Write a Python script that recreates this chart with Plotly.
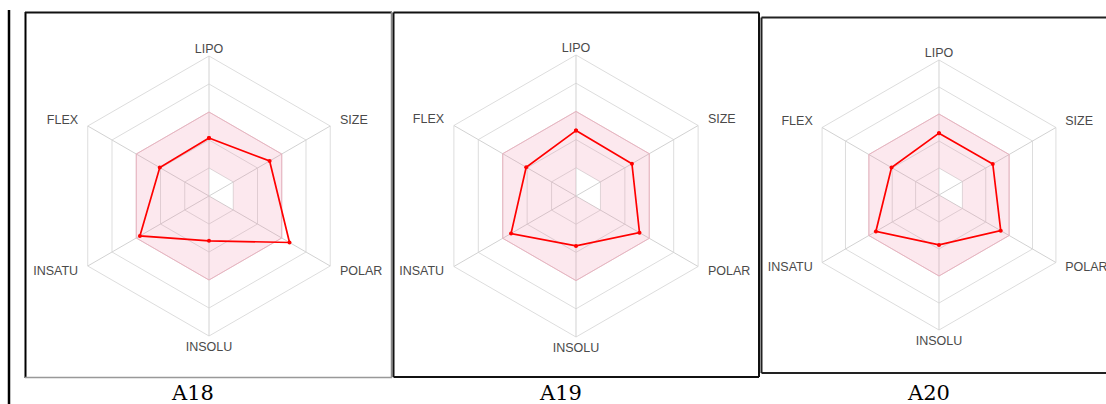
import plotly.graph_objects as go

W, H = 1106, 404

axes = ["LIPO", "SIZE", "POLAR", "INSOLU", "INSATU", "FLEX"]
panel_names = ["A18", "A19", "A20"]
a18 = [2.07, 2.50, 3.32, 1.60, 2.85, 2.03]
a19 = [2.32, 2.29, 2.60, 1.77, 2.66, 2.04]
a20 = [2.29, 2.30, 2.64, 1.85, 2.70, 2.03]
series = [a18, a19, a20]
optimal_low = 1
optimal_high = 3
ring_vals = [1, 2, 3, 4, 5]
axis_max = 5
range_max = 5.6  # room for the axis labels

# polar layout: centre (px) and radius of the r=5 hexagon (px)
panels = [(209, 196, 140), (576, 196, 141), (939, 195, 135)]
label_x = [192, 560, 928]

# axis-label placement (radius, text position)
label_r = [5.0, 5.4, 5.4, 5.2, 5.4, 5.4]
label_pos = ["top center", "middle right", "middle right", "bottom center", "middle left", "middle left"]


def px_x(v):
    return v / W


def px_y(v):
    return 1 - v / H


fig = go.Figure()

for i, (vals, (cx, cy, R)) in enumerate(zip(series, panels)):
    pid = "polar" if i == 0 else f"polar{i + 1}"
    Rd = R * range_max / axis_max
    # spokes
    sp_r, sp_t = [], []
    for a in axes:
        sp_r += [0, axis_max, None]
        sp_t += [a, a, a]
    fig.add_trace(go.Scatterpolar(
        r=sp_r, theta=sp_t, mode="lines", line=dict(width=1, color="#d2d2d2"),
        connectgaps=False, hoverinfo="skip", showlegend=False, subplot=pid))
    # optimal band: outer hexagon with (partial) inner hole
    band_theta = axes + [axes[0], axes[0], axes[0], axes[2], axes[1], axes[0]]
    band_r = [optimal_high] * 6 + [optimal_high, optimal_low, 0, optimal_low, optimal_low, optimal_low]
    fig.add_trace(go.Scatterpolar(
        r=band_r, theta=band_theta, mode="lines", fill="toself",
        fillcolor="rgba(240,130,160,0.18)", line=dict(width=0, color="rgba(0,0,0,0)"),
        hoverinfo="skip", showlegend=False, subplot=pid))
    fig.add_trace(go.Scatterpolar(
        r=[optimal_high] * 7, theta=axes + [axes[0]], mode="lines",
        line=dict(width=1, color="rgba(235,170,185,0.8)"),
        hoverinfo="skip", showlegend=False, subplot=pid))
    fig.add_trace(go.Scatterpolar(
        r=vals + [vals[0]], theta=axes + [axes[0]], mode="lines+markers",
        line=dict(width=1.7, color="#ff0000"),
        marker=dict(size=4, color="#ff0000"),
        showlegend=False, name=panel_names[i], subplot=pid))
    fig.add_trace(go.Scatterpolar(
        r=label_r, theta=axes, mode="text", text=axes, textposition=label_pos,
        textfont=dict(family="Liberation Sans, Arial", size=12.5, color="#4a4a4a"),
        cliponaxis=False, hoverinfo="skip", showlegend=False, subplot=pid))

    polar = dict(
        domain=dict(x=[px_x(cx - Rd), px_x(cx + Rd)], y=[px_y(cy + Rd), px_y(cy - Rd)]),
        gridshape="linear",
        bgcolor="rgba(0,0,0,0)",
        radialaxis=dict(range=[0, range_max], tickvals=ring_vals, showticklabels=False,
                        ticks="", showline=False, gridcolor="#dddddd", gridwidth=1),
        angularaxis=dict(type="category", categoryarray=axes, rotation=90,
                         direction="clockwise", showline=False, showgrid=False,
                         ticks="", showticklabels=False),
    )
    fig.update_layout(**{pid: polar})

# frames / separators
shapes = []
def line(x0, y0, x1, y1, color, width):
    shapes.append(dict(type="line", xref="paper", yref="paper",
                       x0=px_x(x0), y0=px_y(y0), x1=px_x(x1), y1=px_y(y1),
                       line=dict(color=color, width=width)))

line(9, 10, 9, 404, "#000000", 2.5)
# A18 box
line(25.5, 12, 25.5, 378, "#000000", 2)
line(25, 12.5, 392, 12.5, "#111111", 2)
line(391.5, 12, 391.5, 378, "#888888", 1.5)
line(25, 377.5, 392, 377.5, "#999999", 1.5)
# A19 box
for (x0, y0, x1, y1) in [(393.5, 12.5, 759, 12.5), (393.5, 12.5, 393.5, 377), (759, 12.5, 759, 377), (393.5, 377, 759, 377)]:
    line(x0, y0, x1, y1, "#111111", 2)
# A20 box
for (x0, y0, x1, y1) in [(761.5, 17.5, 1110, 17.5), (761.5, 17.5, 761.5, 373), (761.5, 373, 1110, 373)]:
    line(x0, y0, x1, y1, "#222222", 2)

annotations = []
for name, lx in zip(panel_names, label_x):
    annotations.append(dict(text=name, x=px_x(lx), y=px_y(393), xref="paper", yref="paper",
                            showarrow=False, xanchor="center", yanchor="middle",
                            font=dict(family="DejaVu Serif", size=21, color="#000000")))

fig.update_layout(width=W, height=H, margin=dict(l=0, r=0, t=0, b=0),
                  paper_bgcolor="white", plot_bgcolor="white",
                  shapes=shapes, annotations=annotations, showlegend=False)

fig.write_html("out.html")
